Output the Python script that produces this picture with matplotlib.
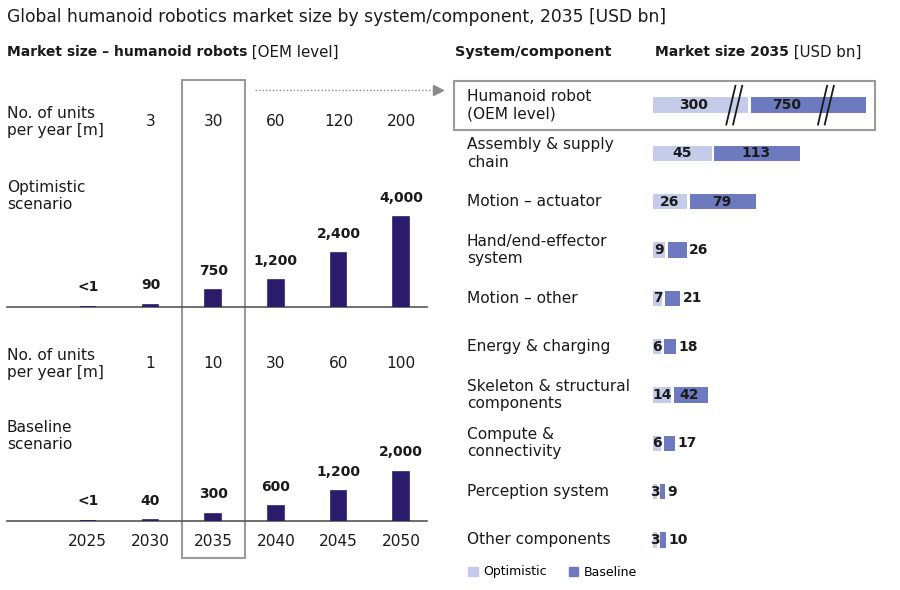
import matplotlib.pyplot as plt
from matplotlib.patches import Patch, Rectangle
from matplotlib.transforms import blended_transform_factory

plt.rcParams['font.family'] = ['DejaVu Sans']

# colors
navy = "#2b1b6b"
light_blue = "#c4cce9"
mid_blue = "#6d7ac0"
frame_gray = "#9a9a9a"
ink = "#1a1a1a"

# left panel data
years = ["2025", "2030", "2035", "2040", "2045", "2050"]
units_optimistic = ["", "3", "30", "60", "120", "200"]
units_baseline = ["", "1", "10", "30", "60", "100"]
market_optimistic = [0.5, 90, 750, 1200, 2400, 4000]
market_baseline = [0.5, 40, 300, 600, 1200, 2000]

# right panel data
components = [
    "Humanoid robot\n(OEM level)",
    "Assembly & supply\nchain",
    "Motion – actuator",
    "Hand/end-effector\nsystem",
    "Motion – other",
    "Energy & charging",
    "Skeleton & structural\ncomponents",
    "Compute &\nconnectivity",
    "Perception system",
    "Other components",
]
value_optimistic = [300, 45, 26, 9, 7, 6, 14, 6, 3, 3]
value_baseline = [750, 113, 79, 26, 21, 18, 42, 17, 9, 10]

W, H = 900, 590
FS = 11.1       # body text
FS_NUM = 10     # bold value labels
LS = 1.18


def box(x0, y0, x1, y1):
    return [x0 / W, 1 - y1 / H, (x1 - x0) / W, (y1 - y0) / H]


def fmt(v):
    return "<1" if v < 1 else f"{v:,}"


fig = plt.figure(figsize=(9, 5.9), dpi=100)

# overlay in pixel coordinates for free text / frames
ov = fig.add_axes([0, 0, 1, 1], zorder=0)
ov.set_xlim(0, W)
ov.set_ylim(H, 0)
ov.axis("off")

ov.text(7, 17, "Global humanoid robotics market size by system/component, 2035 [USD bn]",
        fontsize=12.35, color=ink, va="center")


def heading(x, bold, rest):
    t = ov.text(x, 52, bold, fontsize=10, fontweight="bold", color=ink, va="center")
    ov.annotate(rest, xy=(1, 0.5), xycoords=t, va="center", ha="left",
                fontsize=10.8, color=ink)


heading(7, "Market size – humanoid robots", " [OEM level]")
ov.text(455, 52, "System/component", fontsize=10.4, fontweight="bold", color=ink, va="center")
heading(655, "Market size 2035", " [USD bn]")

# left bar charts
x = list(range(len(years)))
xlim = (-1.29, 5.41)


def bar_panel(rect, values, ymax):
    ax = fig.add_axes(rect, zorder=2)
    ax.patch.set_visible(False)
    ax.bar(x, values, width=0.25, color=navy, edgecolor=navy, linewidth=1.2, zorder=3)
    ax.set_xlim(*xlim)
    ax.set_ylim(0, ymax)
    for s in ["top", "right", "left"]:
        ax.spines[s].set_visible(False)
    ax.spines["bottom"].set_color("#555555")
    ax.spines["bottom"].set_linewidth(1.2)
    ax.set_xticks([])
    ax.set_yticks([])
    for xi, v in zip(x, values):
        ax.annotate(fmt(v), xy=(xi, v), xytext=(0, 9), textcoords="offset points",
                    ha="center", va="bottom", fontsize=FS_NUM, fontweight="bold", color=ink)
    return ax


ax_opt = bar_panel(box(7, 187, 427, 307), market_optimistic, 5357)
ax_base = bar_panel(box(7, 401, 427, 521), market_baseline, 4858)

col = blended_transform_factory(ax_opt.transData, ov.transData)
for xi, u in zip(x, units_optimistic):
    ov.text(xi, 121, u, transform=col, ha="center", va="center", fontsize=FS, color=ink)
for xi, u in zip(x, units_baseline):
    ov.text(xi, 363, u, transform=col, ha="center", va="center", fontsize=FS, color=ink)
for xi, y in zip(x, years):
    ov.text(xi, 541, y, transform=col, ha="center", va="center", fontsize=FS, color=ink)

for yc in (122, 364):
    ov.text(7, yc, "No. of units\nper year [m]", ha="left", va="center",
            fontsize=FS, color=ink, linespacing=LS)
ov.text(7, 196, "Optimistic\nscenario", ha="left", va="center", fontsize=FS,
        color=ink, linespacing=LS)
ov.text(7, 436, "Baseline\nscenario", ha="left", va="center", fontsize=FS,
        color=ink, linespacing=LS)

# highlight frame around 2035
ov.add_patch(Rectangle((1.5, 80), 1.0, 478, transform=col, fill=False,
                       edgecolor=frame_gray, linewidth=1.5))

# dotted arrow to the right panel
ov.plot([255, 436], [90, 90], linestyle=(0, (1, 1.5)), color="#8a8a8a", linewidth=1)
ov.plot([438], [90], marker=">", markersize=7, color="#8a8a8a")

# right panel
ax_r = fig.add_axes(box(653, 81, 893, 564), zorder=2)
ax_r.patch.set_visible(False)
ax_r.axis("off")
ax_r.set_xlim(0, 184.6)
ax_r.set_ylim(len(components) - 0.5, -0.5)

# broken display for the OEM row
break_light, break_dark = 73, 164
gap = 2.2
shown_light = [min(v, break_light) for v in value_optimistic]
shown_dark = [min(v, break_dark) for v in value_baseline]
rows = list(range(len(components)))

ax_r.barh(rows, shown_light, height=0.32, color=light_blue, linewidth=0)
ax_r.barh(rows, [d - l - gap for d, l in zip(shown_dark, shown_light)],
          left=[l + gap for l in shown_light], height=0.32, color=mid_blue, linewidth=0)

cut_light, cut_dark = 62.5, 133
for i, (lo, hi) in enumerate(zip(value_optimistic, value_baseline)):
    sl, sd = shown_light[i], shown_dark[i]
    if lo > break_light:
        ax_r.text(cut_light / 2, i, str(lo), ha="center", va="center",
                  fontsize=FS_NUM, fontweight="bold", color=ink)
        ax_r.text((sl + cut_dark) / 2, i, str(hi), ha="center", va="center",
                  fontsize=FS_NUM, fontweight="bold", color=ink)
        continue
    ax_r.text(sl / 2, i, str(lo), ha="center", va="center",
              fontsize=FS_NUM, fontweight="bold", color=ink)
    if sd - sl > 20:
        ax_r.text((sl + sd) / 2, i, str(hi), ha="center", va="center",
                  fontsize=FS_NUM, fontweight="bold", color=ink)
    else:
        ax_r.text(sd + 1.8, i, str(hi), ha="left", va="center",
                  fontsize=FS_NUM, fontweight="bold", color=ink)

# break marks
for xb in (cut_light, cut_dark):
    for dx in (-2.6, 2.6):
        ax_r.plot([xb + dx - 3.5, xb + dx + 3.5], [0.4, -0.4], color=ink, linewidth=1.3)

row_y = blended_transform_factory(ov.transData, ax_r.transData)
for i, name in enumerate(components):
    ov.text(467, i, name, transform=row_y, ha="left", va="center", fontsize=FS,
            color=ink, linespacing=LS)

# frame around OEM row
ov.add_patch(Rectangle((454, 81), 421, 49, fill=False, edgecolor=frame_gray, linewidth=1.5))

fig.legend(handles=[Patch(color=light_blue), Patch(color=mid_blue)],
           labels=["Optimistic", "Baseline"], loc="center left",
           bbox_to_anchor=(457 / W, 1 - 572 / H), ncol=2, frameon=False,
           handlelength=0.75, handleheight=0.75, handletextpad=0.45,
           columnspacing=1.75, fontsize=9)

fig.savefig("out.png", dpi=100)
